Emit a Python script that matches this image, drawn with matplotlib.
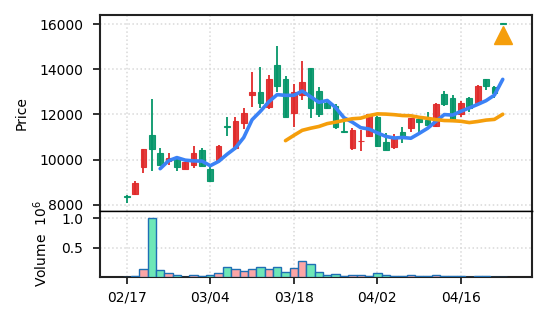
import numpy as np
import pandas as pd
import matplotlib
matplotlib.use("Agg")
import matplotlib.pyplot as plt

# ---------------- data ----------------
tick_labels = ["02/17", "03/04", "03/18", "04/02", "04/16"]
tick_index = [0, 10, 20, 30, 40]

opens = [8380, 8460, 9660, 11080, 10270, 9950, 10010, 9570, 9760, 10410,
         9580, 9980, 11500, 10500, 11630, 12860, 13000, 12340, 14180, 13550,
         12050, 12860, 14040, 13040, 12490, 12350, 11250, 10500, 10800, 11060,
         11900, 10790, 10540, 11230, 11390, 11800, 11750, 11490, 12890, 12710,
         12000, 12740, 12520, 13560, 13230, 16010]
highs = [8430, 9050, 10480, 12680, 10500, 10280, 10120, 9890, 10600, 10520,
         9760, 10650, 11870, 11870, 12270, 13890, 14110, 13740, 15020, 13700,
         13350, 14380, 14060, 13230, 12700, 12470, 11730, 11380, 11310, 12020,
         11930, 11160, 11130, 11450, 11850, 11900, 12110, 12520, 13030, 12860,
         12600, 12760, 13300, 13570, 13250, 16030]
lows = [8090, 8450, 9420, 9500, 9740, 9760, 9500, 9560, 9610, 9720,
        9000, 9950, 11050, 10420, 11340, 12340, 12270, 12230, 13000, 11880,
        11450, 12640, 11820, 11870, 12230, 11340, 11180, 10430, 10390, 11000,
        10560, 10400, 10450, 10720, 11240, 11230, 11520, 11450, 12370, 11700,
        11900, 12120, 12480, 13080, 12720, 15980]
closes = [8330, 8950, 10450, 10470, 9770, 10080, 9660, 9880, 10300, 9730,
          9060, 10620, 11440, 11700, 12050, 13000, 12490, 13550, 13270, 11900,
          13000, 13440, 12300, 12030, 12300, 11430, 11200, 11300, 10820, 12000,
          10580, 10420, 10940, 10940, 11830, 11650, 11550, 12480, 12440, 11720,
          12490, 12300, 13250, 13270, 12940, 15990]
volumes = [3000, 25000, 140000, 1000000, 123000, 72000, 38000, 8000, 30000, 20000,
           37000, 60000, 168000, 140000, 100000, 140000, 175000, 135000, 175000, 90000,
           157000, 277000, 226000, 88000, 40000, 57000, 16000, 32000, 32000, 15000,
           68000, 40000, 20000, 20000, 38000, 20000, 20000, 38000, 20000, 20000,
           10000, 5000, 20000, 15000, 4000, 3000]
signal_index = [45]

# ---------------- styling ----------------
RED = "#e02a2a"
GREEN = "#059669"
VOL_RED = "#fca5a5"
VOL_GREEN = "#6ee7b7"
VOL_EDGE = "#1f6fb4"
MA5_C = "#3b82f6"
MA20_C = "#f59e0b"
SPINE = "#222222"
GRID = "#d9d9d9"

plt.rcParams["font.family"] = ["DejaVu Sans"]
plt.rcParams["font.size"] = 10

df = pd.DataFrame({"open": opens, "high": highs, "low": lows,
                   "close": closes, "volume": volumes})
x = np.arange(len(df))
up = df["close"] >= df["open"]
ma5 = df["close"].rolling(5).mean()
ma20 = df["close"].rolling(20).mean()

fig = plt.figure(figsize=(5.46, 3.22), dpi=100)
W, H = 546.0, 322.0
left, right = 100 / W, 532 / W
ax1 = fig.add_axes([left, 1 - 211 / H, right - left, (211 - 15) / H])
ax2 = fig.add_axes([left, 1 - 277 / H, right - left, (277 - 211) / H], sharex=ax1)

# candles
for i in x:
    o, h, l, c = df.loc[i, ["open", "high", "low", "close"]]
    col = RED if c >= o else GREEN
    ax1.vlines(i, l, h, color=col, linewidth=1.3, zorder=2)
    ax1.bar(i, max(abs(c - o), 40), bottom=min(o, c), width=0.68,
            facecolor=col, edgecolor=col, linewidth=0.8, alpha=0.92, zorder=3)

ax1.plot(x, ma5, color=MA5_C, linewidth=2.6, zorder=4, solid_capstyle="round")
ax1.plot(x, ma20, color=MA20_C, linewidth=2.6, zorder=4, solid_capstyle="round")

sig_y = [df.loc[i, "low"] * 0.97 for i in signal_index]
ax1.plot(signal_index, sig_y, linestyle="none", marker="^", markersize=12.5,
         color=MA20_C, zorder=5)

ax1.set_xlim(-3.2, 48.5)
ax1.set_ylim(7720, 16400)
ax1.set_yticks([8000, 10000, 12000, 14000, 16000])
ax1.set_ylabel("Price", labelpad=7.5)
ax1.grid(True, color=GRID, linestyle=":", linewidth=1.1)
ax1.set_axisbelow(True)
ax1.tick_params(axis="x", which="both", length=0, labelbottom=False)
ax1.tick_params(axis="y", length=5, width=1.3, color=SPINE, pad=7)

# volume
vol_m = df["volume"] / 1e6
vcols = [VOL_RED if u else VOL_GREEN for u in up]
ax2.bar(x, vol_m, width=1.0, color=vcols, edgecolor=VOL_EDGE, linewidth=1.0, zorder=3)
ax2.set_ylim(0, 1.124)
ax2.set_yticks([0.5, 1.0])
ax2.set_ylabel("Volume  $10^6$", labelpad=8.5)
ax2.grid(True, color=GRID, linestyle=":", linewidth=1.1)
ax2.set_axisbelow(True)
ax2.set_xticks(tick_index)
ax2.set_xticklabels(tick_labels)
ax2.tick_params(axis="x", length=5, width=1.3, color=SPINE, pad=5)
ax2.tick_params(axis="y", length=5, width=1.3, color=SPINE, pad=7)

for ax in (ax1, ax2):
    for s in ax.spines.values():
        s.set_color(SPINE)
        s.set_linewidth(1.5)
ax1.spines["bottom"].set_linewidth(1.0)
ax1.spines["bottom"].set_color("black")
ax2.spines["top"].set_linewidth(1.0)
ax2.spines["top"].set_color("black")

fig.savefig("out.png", dpi=100)
